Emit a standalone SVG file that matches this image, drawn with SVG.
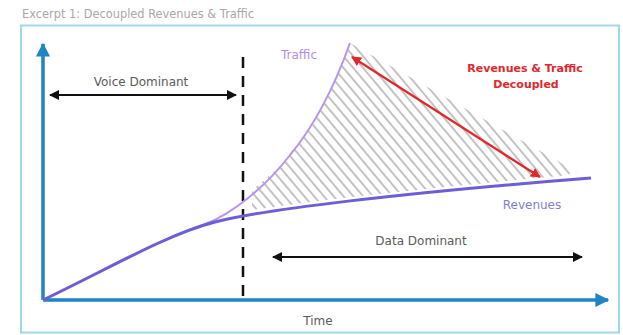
<svg xmlns="http://www.w3.org/2000/svg" width="623" height="335" viewBox="0 0 623 335">
<style>
text{font-family:"DejaVu Sans","Verdana",sans-serif;font-size:12px}
.title{fill:#a8a8a8;font-size:11.4px}
.lbl{fill:#5a5a5a;text-anchor:middle}
.red{fill:#e3262b;font-weight:bold;font-size:11px;text-anchor:middle}
.axis{stroke:#1e84c4;stroke-width:3.5;fill:none}
.blk{stroke:#111;stroke-width:2;fill:none}
</style>
<defs>
<marker id="ab" viewBox="0 0 10 10" refX="9" refY="5" markerWidth="4" markerHeight="4" orient="auto-start-reverse" markerUnits="strokeWidth">
<path d="M0,0 L10,5 L0,10 z" fill="#1e84c4"/>
</marker>
<marker id="ak" viewBox="0 0 10 10" refX="9" refY="5" markerWidth="5" markerHeight="5" orient="auto-start-reverse" markerUnits="strokeWidth">
<path d="M0,0 L10,5 L0,10 z" fill="#111"/>
</marker>
<marker id="ar" viewBox="0 0 10 10" refX="9" refY="5" markerWidth="4.5" markerHeight="4.5" orient="auto-start-reverse" markerUnits="strokeWidth">
<path d="M0,0 L10,5 L0,10 z" fill="#e3262b"/>
</marker>
<pattern id="hatch" patternUnits="userSpaceOnUse" width="7.5" height="20" patternTransform="rotate(-40)">
<line x1="2" y1="0" x2="2" y2="20" stroke="#bcbcbc" stroke-width="1.8"/>
</pattern>
<clipPath id="hclip">
<path d="M252,190 C268,177 280,167 290,155 C315,125 335,85 350,43 L577,172 L560,176 C450,186 330,198 252,210 Z"/>
</clipPath>
</defs>
<rect id="page" x="0" y="0" width="623" height="335" fill="#ffffff"/>
<text id="title" class="title" x="22" y="18">Excerpt 1: Decoupled Revenues &amp; Traffic</text>
<rect id="frame" x="21" y="25.5" width="598" height="307" fill="none" stroke="#9fd8e8" stroke-width="2"/>
<g id="hatching">
<rect x="240" y="40" width="350" height="180" fill="url(#hatch)" clip-path="url(#hclip)"/>
</g>
<g id="connectors">
<line class="axis" x1="43" y1="300" x2="43" y2="44" marker-end="url(#ab)"/>
<line class="axis" x1="43" y1="300" x2="608" y2="300" marker-end="url(#ab)"/>
<line id="divider" x1="243" y1="57" x2="243" y2="300" stroke="#111" stroke-width="2.5" stroke-dasharray="11,8"/>
<line id="voice-arrow" class="blk" x1="50" y1="95" x2="236" y2="95" marker-start="url(#ak)" marker-end="url(#ak)"/>
<line id="data-arrow" class="blk" x1="273" y1="257" x2="582" y2="257" marker-start="url(#ak)" marker-end="url(#ak)"/>
<path id="traffic-curve" d="M43,300 C110,268 160,240 205,224 C230,215 265,188 290,155 C315,125 335,85 350,43" fill="none" stroke="#b794ef" stroke-width="2"/>
<path id="revenues-curve" d="M43,300 C110,268 165,235 215,222 C260,210 400,193 591,178" fill="none" stroke="#6b5ed6" stroke-width="3"/>
<line id="decoupled-arrow" x1="352" y1="57" x2="540" y2="177" stroke="#e3262b" stroke-width="2.2" marker-start="url(#ar)" marker-end="url(#ar)"/>
</g>
<g id="lbl-voice"><text class="lbl" x="141" y="86">Voice Dominant</text></g>
<g id="lbl-data"><text class="lbl" x="421" y="245">Data Dominant</text></g>
<g id="lbl-time"><text class="lbl" x="318" y="325">Time</text></g>
<g id="lbl-traffic"><text x="281" y="59" fill="#b08ee8">Traffic</text></g>
<g id="lbl-revenues"><text x="532" y="209" fill="#7f7fd2" text-anchor="middle">Revenues</text></g>
<g id="lbl-decoupled">
<text class="red" x="525" y="72">Revenues &amp; Traffic</text>
<text class="red" x="526" y="88">Decoupled</text>
</g>
</svg>
